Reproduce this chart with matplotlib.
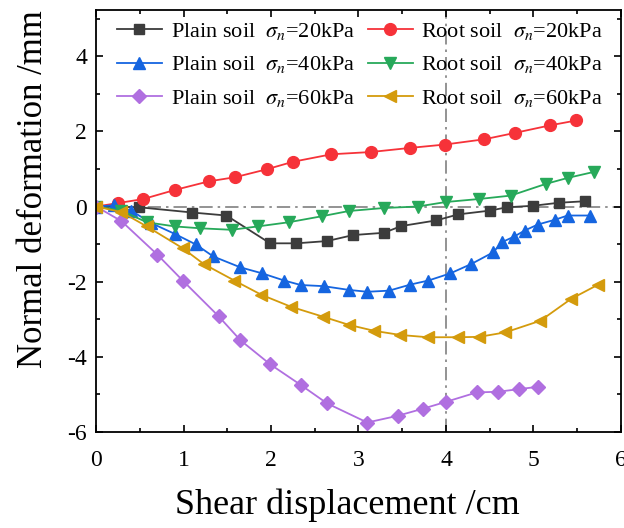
import matplotlib
matplotlib.use("Agg")
import matplotlib.pyplot as plt
from matplotlib.ticker import MultipleLocator

plt.rcParams['font.family'] = ['Liberation Serif', 'DejaVu Serif']
plt.rcParams['mathtext.fontset'] = 'stix'
plt.rcParams['axes.unicode_minus'] = False

# plain soil
plain20_x = [0, 0.49, 1.10, 1.49, 1.99, 2.29, 2.64, 2.94, 3.29, 3.49, 3.89, 4.14, 4.50, 4.70, 5.00, 5.29, 5.59]
plain20_y = [0, -0.02, -0.16, -0.24, -0.98, -0.98, -0.92, -0.76, -0.70, -0.52, -0.37, -0.21, -0.11, -0.02, 0.02, 0.10, 0.14]

plain40_x = [0, 0.20, 0.40, 0.63, 0.90, 1.14, 1.34, 1.65, 1.90, 2.15, 2.34, 2.60, 2.89, 3.10, 3.35, 3.59, 3.80,
             4.05, 4.29, 4.54, 4.64, 4.78, 4.90, 5.05, 5.25, 5.39, 5.65]
plain40_y = [0, 0.03, -0.11, -0.44, -0.73, -1.01, -1.33, -1.62, -1.78, -1.97, -2.09, -2.12, -2.22, -2.27, -2.24, -2.08, -1.97,
             -1.78, -1.53, -1.22, -0.95, -0.80, -0.64, -0.48, -0.35, -0.24, -0.24]

plain60_x = [0, 0.29, 0.70, 0.99, 1.40, 1.65, 1.99, 2.34, 2.64, 3.10, 3.45, 3.74, 4.00, 4.35, 4.60, 4.84, 5.05]
plain60_y = [0, -0.39, -1.28, -1.97, -2.92, -3.56, -4.20, -4.75, -5.24, -5.75, -5.57, -5.38, -5.20, -4.95, -4.93, -4.86, -4.80]

# root soil
root20_x = [0, 0.25, 0.54, 0.90, 1.29, 1.59, 1.95, 2.25, 2.69, 3.14, 3.59, 3.99, 4.44, 4.79, 5.19, 5.49]
root20_y = [0, 0.09, 0.20, 0.44, 0.67, 0.78, 0.99, 1.19, 1.39, 1.45, 1.56, 1.65, 1.79, 1.96, 2.16, 2.29]

root40_x = [0, 0.29, 0.58, 0.90, 1.19, 1.55, 1.85, 2.20, 2.58, 2.89, 3.29, 3.68, 4.00, 4.38, 4.74, 5.14, 5.39, 5.69]
root40_y = [0, -0.11, -0.42, -0.53, -0.58, -0.62, -0.53, -0.42, -0.26, -0.12, -0.04, 0.00, 0.12, 0.20, 0.29, 0.60, 0.76, 0.92]

root60_x = [0, 0.29, 0.58, 0.99, 1.23, 1.58, 1.89, 2.23, 2.59, 2.89, 3.18, 3.48, 3.79, 4.14, 4.38, 4.68, 5.08, 5.43, 5.74]
root60_y = [0, -0.15, -0.53, -1.11, -1.53, -1.97, -2.35, -2.67, -2.93, -3.15, -3.31, -3.42, -3.48, -3.48, -3.47, -3.35, -3.04, -2.46, -2.08]

fig = plt.figure(figsize=(6.24, 5.28), dpi=100)
ax = fig.add_axes([0.154, 0.182, 0.841, 0.799])

# reference lines
ax.axhline(0, color='#808080', lw=1.2, ls=(0, (8, 3, 1.5, 3)), zorder=1)
ax.axvline(4, color='#808080', lw=1.2, ls=(0, (8, 3, 1.5, 3)), zorder=1)

ms = 8.5
lw = 1.3
p20, = ax.plot(plain20_x, plain20_y, '-s', color='#3c3c3c', ms=ms - 1, lw=lw, label=r'Plain soil  $\sigma_n$=20kPa')
r20, = ax.plot(root20_x, root20_y, '-o', color='#f63239', ms=ms, lw=lw, label=r'Root soil  $\sigma_n$=20kPa')
p40, = ax.plot(plain40_x, plain40_y, '-^', color='#1565e0', ms=ms, lw=lw, label=r'Plain soil  $\sigma_n$=40kPa')
r40, = ax.plot(root40_x, root40_y, '-v', color='#27a95a', ms=ms, lw=lw, label=r'Root soil  $\sigma_n$=40kPa')
p60, = ax.plot(plain60_x, plain60_y, '-D', color='#b06fe0', ms=ms - 1, lw=lw, label=r'Plain soil  $\sigma_n$=60kPa')
r60, = ax.plot(root60_x, root60_y, '-<', color='#d49b0c', ms=ms, lw=lw, label=r'Root soil  $\sigma_n$=60kPa')

ax.set_xlim(0, 6)
ax.set_ylim(-6, 5.23)
ax.xaxis.set_major_locator(MultipleLocator(1))
ax.xaxis.set_minor_locator(MultipleLocator(0.5))
ax.yaxis.set_major_locator(MultipleLocator(2))
ax.yaxis.set_minor_locator(MultipleLocator(1))
ax.tick_params(which='both', direction='in', top=True, right=True, labelsize=17, width=1.2)
ax.tick_params(which='major', length=5)
ax.tick_params(which='minor', length=3)
ax.tick_params(axis='x', which='major', pad=13)
ax.tick_params(axis='y', which='major', pad=6.5)
for s in ax.spines.values():
    s.set_linewidth(1.3)

ax.set_xlabel('Shear displacement /cm', fontsize=26)
ax.set_ylabel('Normal deformation /mm', fontsize=25)
ax.xaxis.set_label_coords(0.478, -0.135)
ax.yaxis.set_label_coords(-0.087, 0.576)

# legend is filled row by row in the reference
handles = [p20, p40, p60, r20, r40, r60]
ax.legend(handles=handles, ncol=2, loc='upper left', frameon=False, fontsize=16,
          handlelength=2.0, handletextpad=0.4, columnspacing=0.6,
          labelspacing=0.55, borderaxespad=0.1, bbox_to_anchor=(0.019, 1.0))

fig.savefig('out.png', dpi=100)
